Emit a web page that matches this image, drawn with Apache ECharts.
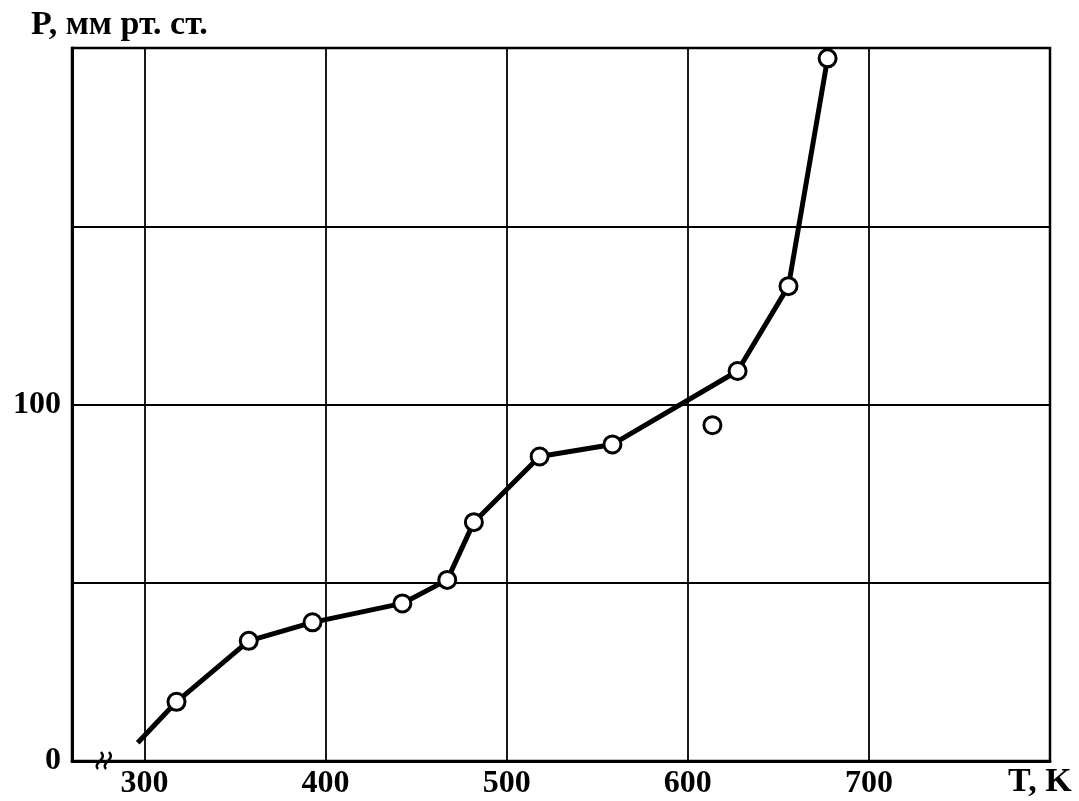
<!DOCTYPE html>
<html>
<head>
<meta charset="utf-8">
<script src="https://cdn.jsdelivr.net/npm/echarts@6/dist/echarts.min.js"></script>
<style>html,body{margin:0;padding:0;background:#fff}#c{width:1079px;height:801px}</style>
</head>
<body>
<div id="c"></div>
<script>
// Data
const curveT = [296.3, 317.7, 357.6, 392.8, 442.4, 467.2, 481.9, 518.2, 558.4, 627.5, 655.6, 677.2];
const curveP = [5.1, 16.6, 33.7, 38.9, 44.2, 50.8, 67.0, 85.4, 88.8, 109.4, 133.2, 197.1];
const pointT = [317.7, 357.6, 392.8, 442.4, 467.2, 481.9, 518.2, 558.4, 627.5, 655.6, 677.2, 613.6];
const pointP = [16.6, 33.7, 38.9, 44.2, 50.8, 67.0, 85.4, 88.8, 109.4, 133.2, 197.1, 94.2];
const xTicks = [300, 400, 500, 600, 700];
const yLabels = [0, 100];
const xName = 'T, K';
const yName = 'P, мм рт. ст.';

const font = 'Liberation Serif';
const chart = echarts.init(document.getElementById('c'), null, {renderer: 'canvas'});
chart.setOption({
  backgroundColor: '#fff',
  animation: false,
  title: {
    text: yName, left: 26, top: 3,
    textStyle: {fontFamily: font, fontWeight: 'bold', fontSize: 34, color: '#000'}
  },
  grid: {left: 72, right: 29, top: 48, bottom: 40, show: true, borderColor: '#000', borderWidth: 2.5, backgroundColor: 'transparent'},
  xAxis: {
    type: 'value', min: 260, max: 800,
    name: xName, nameLocation: 'end', nameGap: -42,
    nameTextStyle: {fontFamily: font, fontWeight: 'bold', fontSize: 34, color: '#000', verticalAlign: 'top', padding: [4, 0, 0, 0]},
    axisLine: {show: true, lineStyle: {color: '#000', width: 3}},
    axisTick: {show: false},
    splitLine: {show: false},
    axisLabel: {customValues: xTicks, margin: 7, fontFamily: font, fontWeight: 'bold', fontSize: 32, color: '#000'}
  },
  yAxis: {
    type: 'value', min: 0, max: 200, interval: 50,
    axisLine: {show: true, lineStyle: {color: '#000', width: 3}},
    axisTick: {show: false},
    splitLine: {show: true, lineStyle: {color: '#000', width: 1.8}},
    axisLabel: {
      margin: 11, fontFamily: font, fontWeight: 'bold', fontSize: 32, color: '#000',
      formatter: v => (yLabels.indexOf(v) >= 0 ? String(v) : '')
    }
  },
  series: [
    {
      type: 'line', data: [], z: 1, silent: true,
      markLine: {
        silent: true, symbol: ['none', 'none'], label: {show: false},
        lineStyle: {color: '#000', width: 1.8, type: 'solid'},
        data: xTicks.map(v => ({xAxis: v}))
      }
    },
    {
      type: 'line', z: 3, showSymbol: false, silent: true,
      lineStyle: {color: '#000', width: 5},
      data: curveT.map((t, i) => [t, curveP[i]])
    },
    {
      type: 'scatter', z: 4, silent: true,
      symbol: 'circle', symbolSize: 17,
      itemStyle: {color: '#fff', borderColor: '#000', borderWidth: 3, opacity: 1},
      data: pointT.map((t, i) => [t, pointP[i]])
    }
  ],
  graphic: [
    {type: 'bezierCurve', z: 10, shape: {x1: 98, y1: 769, cpx1: 92, cpy1: 763, cpx2: 108, cpy2: 760, x2: 101, y2: 752}, style: {stroke: '#000', lineWidth: 2.5, fill: null}},
    {type: 'bezierCurve', z: 10, shape: {x1: 106, y1: 769, cpx1: 100, cpy1: 763, cpx2: 116, cpy2: 760, x2: 109, y2: 752}, style: {stroke: '#000', lineWidth: 2.5, fill: null}}
  ]
});
</script>
</body>
</html>
